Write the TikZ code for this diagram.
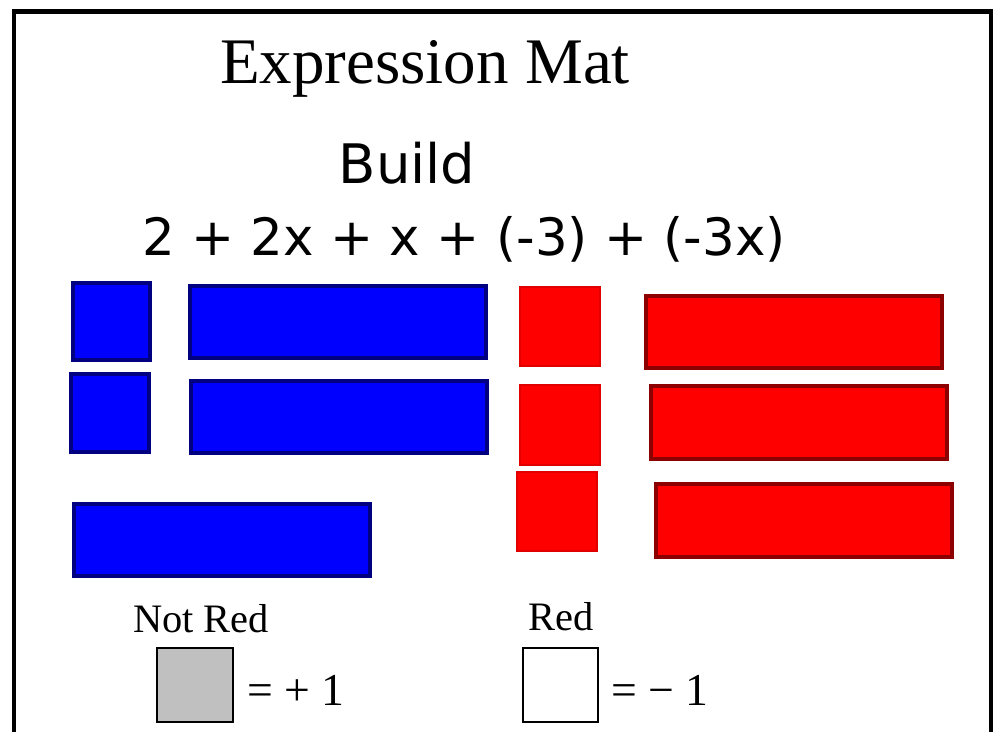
\documentclass[tikz,border=0pt]{standalone}
\usepackage{fontspec}
\setmainfont{Liberation Serif}
\newfontfamily\handfont{DejaVu Sans}
\definecolor{tileblue}{RGB}{0,0,255}
\definecolor{edgeblue}{RGB}{0,0,128}
\definecolor{tilered}{RGB}{255,0,0}
\definecolor{edgered}{RGB}{140,0,0}
\definecolor{sqred}{RGB}{225,0,0}
\definecolor{unitgray}{RGB}{192,192,192}
\begin{document}
\begin{tikzpicture}[x=0.02cm,y=-0.02cm,
  bluetile/.style={fill=tileblue,draw=edgeblue,line width=2.4pt},
  redbar/.style={fill=tilered,draw=edgered,line width=2.4pt},
  redsq/.style={fill=tilered,draw=sqred,line width=1.6pt},
  unittile/.style={draw=black,line width=1pt}]
\useasboundingbox(0,0)rectangle(994,731);
\draw[line width=2.6pt](14,745)--(14,11.5)--(991,11.5)--(991,745);
% titles
\node[anchor=base,font=\fontsize{37}{40}\selectfont](title)at(425,83){Expression Mat};
\node[anchor=base,font=\handfont\fontsize{31}{34}\selectfont](build)at(407,183){Build};
\node[anchor=base,font=\handfont\fontsize{29.3}{32}\selectfont](expr)at(464,255){2 + 2x + x + (-3) + (-3x)};
% not red tiles
\draw[bluetile](73,283)rectangle(150,360);
\draw[bluetile](71,374)rectangle(149,452);
\draw[bluetile](190,286)rectangle(486,358);
\draw[bluetile](191,381)rectangle(487,453);
\draw[bluetile](74,504)rectangle(370,576);
% red tiles
\draw[redsq](520,287)rectangle(600,366);
\draw[redsq](520,385)rectangle(600,465);
\draw[redsq](517,472)rectangle(597,551);
\draw[redbar](646,296)rectangle(942,368);
\draw[redbar](651,386)rectangle(947,459);
\draw[redbar](656,484)rectangle(952,557);
% legend
\node[anchor=base,font=\fontsize{23}{26}\selectfont](notred)at(201,632){Not Red};
\node[anchor=base,font=\fontsize{23}{26}\selectfont](red)at(561,630){Red};
\draw[unittile,fill=unitgray](157,648)rectangle(233,722);
\draw[unittile,fill=white](523,648)rectangle(598,722);
\node[anchor=base west,inner sep=0pt,font=\fontsize{26}{29}\selectfont](plusone)at(247,705){= + 1};
\node[anchor=base west,inner sep=0pt,font=\fontsize{26}{29}\selectfont](minusone)at(611,705){= − 1};
\end{tikzpicture}
\end{document}
